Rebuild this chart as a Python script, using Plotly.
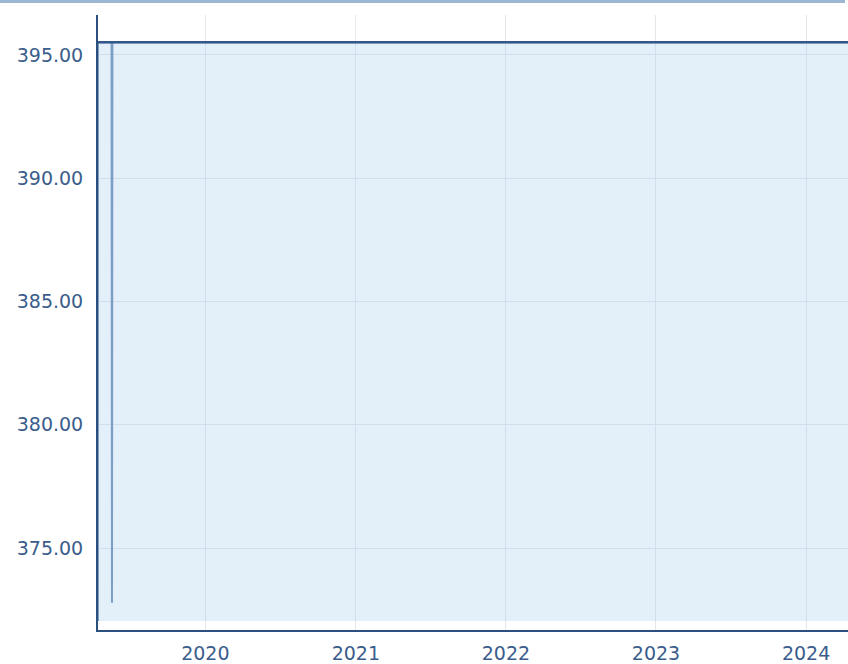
import plotly.graph_objects as go

# Data
dates = ["2019-04-15", "2019-04-15", "2019-05-18", "2019-05-19", "2019-05-20", "2024-04-12"]
values = [372.05, 395.52, 395.52, 372.78, 395.52, 395.52]
baseline_value = 372.05
x_range = ["2019-04-15", "2024-04-12"]
y_range = [371.68, 396.62]
y_ticks = [375, 380, 385, 390, 395]

top_value = max(values)

fig = go.Figure()
fig.add_trace(go.Scatter(
    x=[dates[0], dates[-1]], y=[baseline_value, baseline_value],
    mode="lines", line=dict(width=0), hoverinfo="skip", showlegend=False,
))
fig.add_trace(go.Scatter(
    x=dates, y=values, mode="lines",
    line=dict(color="#7b9dc6", width=2),
    fill="tonexty", fillcolor="rgba(169,206,238,0.33)",
    showlegend=False,
))
fig.add_trace(go.Scatter(
    x=[dates[1], dates[-1]], y=[top_value, top_value], mode="lines",
    line=dict(color="#34578a", width=2.5),
    hoverinfo="skip", showlegend=False,
))

axis_font = dict(family="DejaVu Sans", size=19, color="#3a5d8c")
fig.update_layout(
    width=848, height=664,
    margin=dict(l=98, r=0, t=15, b=32),
    paper_bgcolor="white", plot_bgcolor="white",
    xaxis=dict(
        range=x_range, type="date", dtick="M12", tick0="2020-01-01",
        tickformat="%Y", showgrid=True, gridcolor="#e4e8ec", gridwidth=1,
        showline=True, linecolor="#2b4f7e", linewidth=2,
        ticks="", ticklabelstandoff=5, tickfont=axis_font, zeroline=False,
    ),
    yaxis=dict(
        range=y_range, tickvals=y_ticks, tickformat=".2f",
        showgrid=True, gridcolor="#e4e8ec", gridwidth=1,
        showline=True, linecolor="#2b4f7e", linewidth=2,
        ticks="", ticklabelstandoff=9, tickfont=axis_font, zeroline=False,
    ),
    shapes=[dict(
        type="line", xref="paper", yref="paper",
        x0=-98/750, x1=1 - 3/750, y0=1 + 13.5/617, y1=1 + 13.5/617,
        line=dict(color="#9db6d2", width=3),
    )],
)

fig.write_html(
    "out.html",
    config={"displayModeBar": False},
    post_script="document.body.style.margin='0';document.body.style.overflow='hidden';",
)
